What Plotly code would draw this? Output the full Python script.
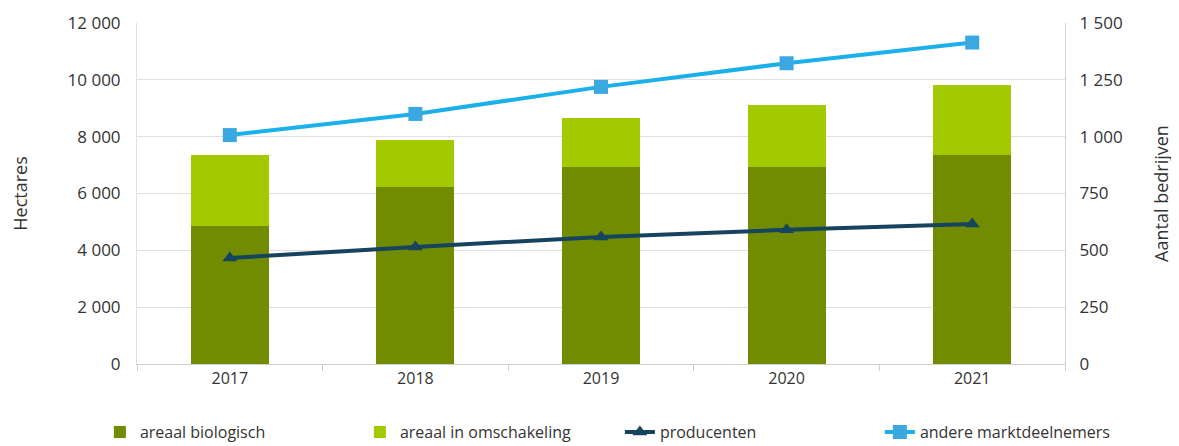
import plotly.graph_objects as go

years = ["2017", "2018", "2019", "2020", "2021"]
areaal_biologisch = [4850, 6230, 6930, 6950, 7370]
areaal_omschakeling = [2500, 1650, 1720, 2150, 2440]
producenten = [466, 515, 559, 590, 616]
andere_marktdeelnemers = [1007, 1100, 1219, 1323, 1414]

left_ticks = [0, 2000, 4000, 6000, 8000, 10000, 12000]
left_ticktext = ["0", "2 000", "4 000", "6 000", "8 000", "10 000", "12 000"]
right_ticks = [0, 250, 500, 750, 1000, 1250, 1500]
right_ticktext = ["0", "250", "500", "750", "1 000", "1 250", "1 500"]

font_family = "Open Sans, Lato, sans-serif"
txt = "#333333"

fig = go.Figure()
fig.add_trace(go.Bar(x=years, y=areaal_biologisch, name="areaal biologisch",
                     marker=dict(color="#718C00", line=dict(width=0))))
fig.add_trace(go.Bar(x=years, y=areaal_omschakeling, name="areaal in omschakeling",
                     marker=dict(color="#A3C900", line=dict(width=0))))
fig.add_trace(go.Scatter(x=years, y=producenten, name="producenten", yaxis="y2",
                         mode="lines+markers",
                         line=dict(color="#16445E", width=4),
                         marker=dict(symbol="triangle-up", size=13, color="#16445E")))
fig.add_trace(go.Scatter(x=years, y=andere_marktdeelnemers, name="andere marktdeelnemers", yaxis="y2",
                         mode="lines+markers",
                         line=dict(color="#1CB0EA", width=4),
                         marker=dict(symbol="square", size=14, color="#3BA8E2")))

# page has an 8px body margin: compensate so the plot area sits at x 137-1065, y 23-364
fig.update_layout(
    width=1171, height=438,
    barmode="stack", bargap=0.58,
    plot_bgcolor="white", paper_bgcolor="white",
    margin=dict(l=129, r=114, t=15, b=82, autoexpand=False),
    font=dict(family=font_family, size=17, color=txt),
    showlegend=True,
    legend=dict(orientation="h", x=-0.04, xanchor="left", y=-0.15, yanchor="top",
                font=dict(size=16, color=txt), traceorder="normal",
                entrywidth=215, entrywidthmode="pixels"),
    xaxis=dict(type="category", showgrid=False, showline=True, linecolor="#d0d0d0",
               ticks="outside", tickson="boundaries", ticklen=6, tickcolor="#d0d0d0",
               tickfont=dict(size=16, color=txt)),
    yaxis=dict(range=[0, 12000], tickvals=left_ticks, ticktext=left_ticktext,
               showgrid=True, gridcolor="#e0e0e0", gridwidth=1, zeroline=False,
               showline=True, linecolor="#e0e0e0", ticks="", ticklabelstandoff=12,
               title=dict(text="Hectares", font=dict(size=18, color=txt), standoff=38),
               tickfont=dict(size=17, color=txt)),
    yaxis2=dict(range=[0, 1500], tickvals=right_ticks, ticktext=right_ticktext,
                overlaying="y", side="right", showgrid=False, zeroline=False,
                showline=True, linecolor="#d0d0d0", ticklabelstandoff=10,
                title=dict(text="Aantal bedrijven", font=dict(size=18, color=txt), standoff=33),
                tickfont=dict(size=17, color=txt)),
)

fig.write_html("out.html")
